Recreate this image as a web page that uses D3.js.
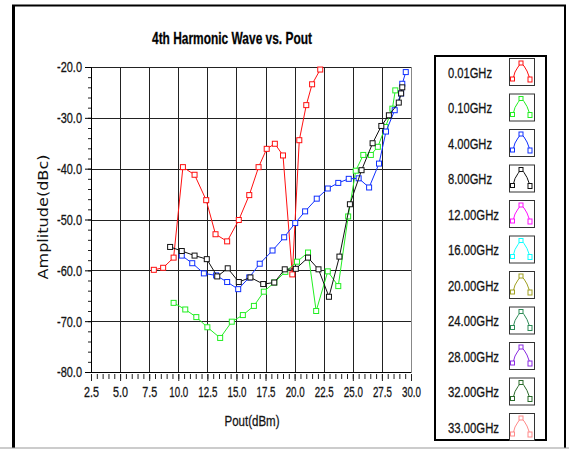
<!DOCTYPE html>
<html><head><meta charset="utf-8">
<script src="https://cdn.jsdelivr.net/npm/d3@7"></script>
<style>
body{margin:0;background:#fff;}
svg{display:block;}
.nar{font-family:"Liberation Sans",Arial,sans-serif;stroke:#1a1a1a;stroke-width:0.3px;}
</style></head><body>
<svg id="c" width="569" height="449"></svg>
<script>
const title = "4th Harmonic Wave vs. Pout";
const xLabel = "Pout(dBm)";
const yLabel = "Amplitude(dBc)";
const xTicks = [2.5,5.0,7.5,10.0,12.5,15.0,17.5,20.0,22.5,25.0,27.5,30.0];
const yTicks = [-80,-70,-60,-50,-40,-30,-20];
const legendLabels = ["0.01GHz","0.10GHz","4.00GHz","8.00GHz","12.00GHz","16.00GHz","20.00GHz","24.00GHz","28.00GHz","32.00GHz","33.00GHz"];
const legendColors = ["#ff1010","#22ee22","#1030ff","#111111","#ff10ff","#10ffff","#a0a020","#2e8b57","#8a2be2","#2a6a2a","#ff8a8a"];

const red_x = [7.9,8.7,9.6,10.4,11.4,12.4,13.2,14.2,15.2,16.1,16.9,17.6,18.3,19.0,19.8,20.4,21.0,21.5,22.2];
const red_y = [-59.9,-59.5,-57.5,-39.7,-41.2,-46.2,-52.9,-54.3,-50.1,-45.2,-39.7,-36.1,-35.1,-37.4,-60.8,-34.4,-27.5,-23.4,-20.5];
const green_x = [9.6,10.6,11.55,12.5,13.6,14.6,15.55,16.5,17.35,18.25,19.2,20.2,21.15,21.85,22.85,23.75,24.6,25.25,25.9,26.55,27.15,27.8,28.4,28.65];
const green_y = [-66.4,-67.7,-69.2,-71.2,-73.3,-70.1,-68.8,-67.0,-64.2,-62.4,-60.3,-58.3,-56.5,-68.0,-60.2,-63.1,-49.4,-40.4,-37.3,-37.3,-35.7,-31.8,-28.2,-24.6];
const blue_x = [10.3,11.2,12.2,13.25,14.2,15.15,16.1,17.0,18.1,19.1,20.05,20.9,21.9,22.85,23.75,24.65,25.5,26.4,27.25,27.85,28.6,29.15,29.25,29.55];
const blue_y = [-57.1,-58.6,-60.6,-61.0,-62.3,-63.7,-61.4,-58.7,-56.1,-53.5,-50.7,-48.4,-45.9,-43.9,-42.8,-42.0,-41.9,-43.7,-39.0,-32.7,-28.5,-25.2,-23.3,-21.0];
const black_x = [9.3,10.3,11.4,12.45,13.35,14.25,15.2,16.2,17.3,18.25,19.15,20.1,21.15,22.05,22.95,23.85,24.75,25.75,26.7,27.45,28.1,28.95,29.15,29.25];
const black_y = [-55.4,-56.2,-57.1,-57.8,-61.2,-59.6,-62.3,-61.4,-62.7,-62.4,-59.8,-59.7,-57.5,-59.8,-65.2,-57.3,-47.0,-40.3,-35.0,-31.6,-29.5,-27.0,-25.2,-24.0];

const series = [
  {c:legendColors[0], x:red_x, y:red_y},
  {c:legendColors[1], x:green_x, y:green_y},
  {c:legendColors[2], x:blue_x, y:blue_y},
  {c:legendColors[3], x:black_x, y:black_y}
];

const svg = d3.select("#c");
const X = d3.scaleLinear().domain([2.5,30]).range([91,411]);
const Y = d3.scaleLinear().domain([-80,-20]).range([372,67]);

// outer frame
svg.append("line").attr("x1",12).attr("x2",566).attr("y1",5.5).attr("y2",5.5).attr("stroke","#000").attr("stroke-width",2);
svg.append("line").attr("x1",13.5).attr("x2",13.5).attr("y1",5).attr("y2",448).attr("stroke","#000").attr("stroke-width",3);
svg.append("line").attr("x1",565).attr("x2",565).attr("y1",5).attr("y2",448).attr("stroke","#000").attr("stroke-width",2);
svg.append("line").attr("x1",0).attr("x2",569).attr("y1",448).attr("y2",448).attr("stroke","#999").attr("stroke-width",1);

// grid
const g = svg.append("g");
g.selectAll(".gx").data(xTicks).join("line").attr("x1",d=>Math.round(X(d))+0.5).attr("x2",d=>Math.round(X(d))+0.5)
  .attr("y1",Y(-20)).attr("y2",Y(-80)).attr("stroke","#222").attr("stroke-width",1);
g.selectAll(".gy").data(yTicks).join("line").attr("y1",d=>Math.round(Y(d))+0.5).attr("y2",d=>Math.round(Y(d))+0.5)
  .attr("x1",X(2.5)).attr("x2",X(30)).attr("stroke","#222").attr("stroke-width",1);
svg.append("line").attr("x1",X(30)+0.5).attr("x2",X(30)+0.5).attr("y1",Y(-20)).attr("y2",Y(-80)).attr("stroke","#888");

// axes
const yMinor = d3.range(-80,-19.9,2);
const xMinor = d3.range(2.5,30.01,0.5);
const yAx = svg.append("g").attr("transform",`translate(${X(2.5)},0)`)
  .call(d3.axisLeft(Y).tickValues(yMinor).tickSize(3).tickFormat(""));
yAx.select(".domain").remove();
yAx.selectAll("line").attr("stroke","#222");
const yAx2 = svg.append("g").attr("transform",`translate(${X(2.5)},0)`)
  .call(d3.axisLeft(Y).tickValues(yTicks).tickSize(6).tickPadding(3).tickFormat(d=>d.toFixed(1)));
yAx2.select(".domain").attr("stroke","#000");
yAx2.selectAll("text").attr("class","nar").attr("font-size",15.5).attr("fill","#111")
  .attr("textLength",25).attr("lengthAdjust","spacingAndGlyphs");

const xAx = svg.append("g").attr("transform",`translate(0,${Y(-80)+2})`)
  .call(d3.axisBottom(X).tickValues(xMinor).tickSize(5).tickSizeOuter(0).tickFormat(""));
xAx.select(".domain").remove();
xAx.selectAll("line").attr("stroke","#222");
const xAx2 = svg.append("g").attr("transform",`translate(0,${Y(-80)})`)
  .call(d3.axisBottom(X).tickValues(xTicks).tickSize(9).tickSizeOuter(0).tickPadding(5).tickFormat(d=>d.toFixed(1)));
xAx2.select(".domain").attr("stroke","#000");
xAx2.selectAll("line").attr("stroke","#222").attr("y1",2);
xAx2.selectAll("text").attr("class","nar").attr("font-size",15.5).attr("fill","#111")
  .attr("textLength",d=>d>=10?19:15).attr("lengthAdjust","spacingAndGlyphs");

// labels
svg.append("text").attr("x",232).attr("y",44).attr("text-anchor","middle").attr("class","nar")
  .attr("font-weight","bold").attr("font-size",16.5).attr("fill","#000")
  .attr("textLength",160).attr("lengthAdjust","spacingAndGlyphs").text(title);
svg.append("text").attr("x",252).attr("y",426).attr("text-anchor","middle").attr("class","nar")
  .attr("font-size",15.5).attr("fill","#111").attr("textLength",55).attr("lengthAdjust","spacingAndGlyphs").text(xLabel);
svg.append("text").attr("transform","translate(48,217) rotate(-90)").attr("text-anchor","middle")
  .attr("font-family","DejaVu Sans, sans-serif").attr("font-size",13.5).attr("fill","#111")
  .attr("textLength",125).attr("lengthAdjust","spacingAndGlyphs").text(yLabel);

// series
const line = d3.line().x(d=>X(d[0])).y(d=>Y(d[1]));
series.forEach(s=>{
  const pts = s.x.map((v,i)=>[v,s.y[i]]);
  const sg = svg.append("g");
  sg.append("path").attr("d",line(pts)).attr("fill","none").attr("stroke",s.c).attr("stroke-width",1);
  sg.selectAll("rect").data(pts).join("rect")
    .attr("x",d=>X(d[0])-2.5).attr("y",d=>Y(d[1])-2.5).attr("width",5).attr("height",5)
    .attr("fill","#fff").attr("stroke",s.c).attr("stroke-width",1);
});

// legend
svg.append("rect").attr("x",435).attr("y",56).attr("width",111).attr("height",384)
  .attr("fill","#fff").attr("stroke","#000").attr("stroke-width",2);
const lg = svg.append("g");
legendLabels.forEach((lab,i)=>{
  const cy = 72 + i*35.5;
  lg.append("text").attr("x",448).attr("y",cy+5.5).attr("class","nar").attr("font-size",15.5).attr("fill","#111")
    .attr("textLength",lab.length>7?51:44).attr("lengthAdjust","spacingAndGlyphs").text(lab);
  const ix = 509, iy = cy-14;
  lg.append("rect").attr("x",ix+0.5).attr("y",iy+0.5).attr("width",25).attr("height",27)
    .attr("fill","#fff").attr("stroke","#333").attr("stroke-width",1);
  const c = legendColors[i];
  const ip = [[4,21],[6,14],[9,9],[12,5],[15,8],[18,13],[21,21]];
  lg.append("polyline").attr("points",ip.map(p=>`${ix+p[0]},${iy+p[1]}`).join(" "))
    .attr("fill","none").attr("stroke",c).attr("stroke-width",1);
  [[3.5,21],[12,5],[21,21]].forEach((p,k)=>{
    lg.append("rect").attr("x",ix+p[0]-2).attr("y",iy+p[1]-2).attr("width",4).attr("height",k===2?5:4)
      .attr("fill","#fff").attr("stroke",c).attr("stroke-width",1);
  });
});
</script>
</body></html>
